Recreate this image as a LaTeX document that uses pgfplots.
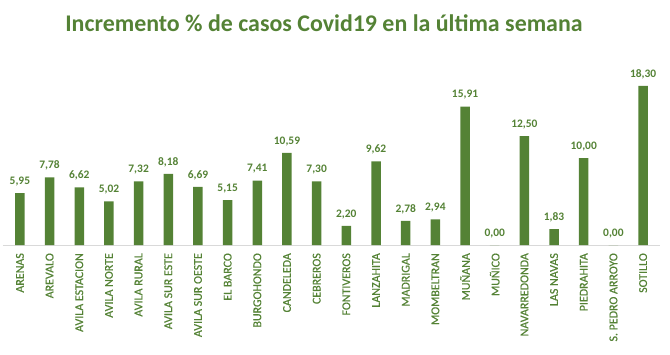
\documentclass[border=0pt]{standalone}
\usepackage{pgfplots}
\pgfplotsset{compat=1.18}
\usepackage{fontspec}
\setmainfont{Carlito}
\newfontfamily\labfont[FakeBold=0.6]{Carlito}
\definecolor{vg}{HTML}{548235}
\definecolor{axgray}{HTML}{D9D9D9}
\begin{document}
\begin{tikzpicture}
\path[use as bounding box] (-3bp,-110bp) rectangle (667bp,245bp);
\begin{axis}[
  at={(0,0)}, anchor=south west,
  scale only axis,
  width=657bp, height=174bp,
  xmin=-0.57, xmax=21.57,
  ymin=0, ymax=20,
  axis y line=none,
  axis x line*=bottom,
  x axis line style={axgray, line width=0.8pt, -},
  xtick=data,
  major tick length=0pt,
  xticklabels={ARENAS,AREVALO,AVILA ESTACION,AVILA NORTE,AVILA RURAL,AVILA SUR ESTE,AVILA SUR OESTE,EL BARCO,BURGOHONDO,CANDELEDA,CEBREROS,FONTIVEROS,LANZAHITA,MADRIGAL,MOMBELTRAN,MUÑANA,MUÑICO,NAVARREDONDA,LAS NAVAS,PIEDRAHITA,S. PEDRO ARROYO,SOTILLO},
  xticklabel style={yshift=-8bp, rotate=90, anchor=east, font=\labfont\fontsize{12}{14}\selectfont, text=vg, inner sep=0pt},
  ybar, bar width=9.5bp,
  nodes near coords,
  every node near coord/.append style={font=\fontsize{11.5}{13}\selectfont\bfseries, text=vg, inner sep=0pt, yshift=7bp, /pgf/number format/.cd, fixed, fixed zerofill, precision=2, use comma, assume math mode=true},
  /pgf/number format/assume math mode=true,
]
\addplot[fill=vg, draw=none] coordinates {
(0,5.95) (1,7.78) (2,6.62) (3,5.02) (4,7.32) (5,8.18) (6,6.69) (7,5.15) (8,7.41) (9,10.59) (10,7.30) (11,2.20) (12,9.62) (13,2.78) (14,2.94) (15,15.91) (16,0.00) (17,12.50) (18,1.83) (19,10.00) (20,0.00) (21,18.30)
};
\end{axis}
\node[anchor=base, font=\fontsize{24}{28}\selectfont\bfseries, text=vg] at (321bp,213bp) {Incremento \% de casos Covid19 en la última semana};
\end{tikzpicture}
\end{document}
